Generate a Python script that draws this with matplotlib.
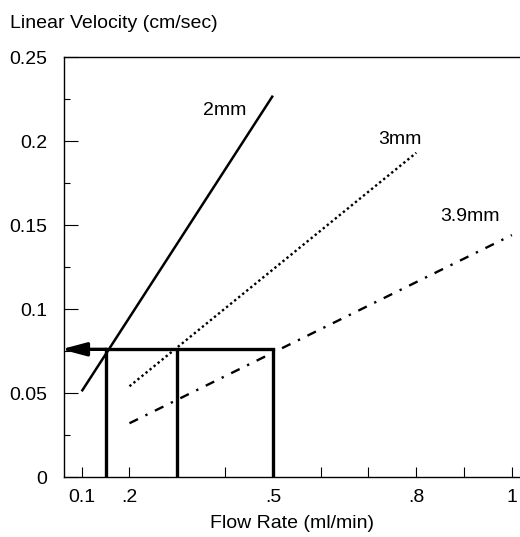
import matplotlib.pyplot as plt
from matplotlib.ticker import MultipleLocator

plt.rcParams["font.family"] = ["Liberation Sans", "DejaVu Sans"]

# data
flow_2mm = [0.1, 0.5]
vel_2mm = [0.051, 0.227]
flow_3mm = [0.2, 0.8]
vel_3mm = [0.054, 0.193]
flow_39mm = [0.2, 1.0]
vel_39mm = [0.032, 0.144]

target_velocity = 0.076
read_flows = [0.15, 0.3, 0.5]

x_ticks = [0.1, 0.2, 0.3, 0.4, 0.5, 0.6, 0.7, 0.8, 0.9, 1.0]
x_tick_labels = ["0.1", ".2", "", "", ".5", "", "", ".8", "", "1"]
y_ticks = [0, 0.05, 0.1, 0.15, 0.2, 0.25]
y_tick_labels = ["0", "0.05", "0.1", "0.15", "0.2", "0.25"]


def main():
    fig = plt.figure(figsize=(5.2, 5.37), dpi=100)
    ax = fig.add_axes([64 / 520, 1 - 477 / 537, 1 - 64 / 520, (477 - 57) / 537])

    ax.plot(flow_2mm, vel_2mm, color="black", lw=1.8, solid_capstyle="butt")
    ax.plot(flow_3mm, vel_3mm, color="black", lw=1.7, linestyle=(0, (1, 1.2)))
    ax.plot(flow_39mm, vel_39mm, color="black", lw=1.7,
            linestyle=(0, (4, 3.5, 1, 3.5)))

    ax.text(0.40, 0.218, "2mm", fontsize=14, ha="center", va="center")
    ax.text(0.766, 0.201, "3mm", fontsize=14, ha="center", va="center")
    ax.text(0.912, 0.155, "3.9mm", fontsize=14, ha="center", va="center")

    # reading lines
    for f in read_flows:
        ax.plot([f, f], [0, target_velocity], color="black", lw=2.4,
                solid_capstyle="butt")
    ax.plot([read_flows[0], read_flows[-1]], [target_velocity] * 2,
            color="black", lw=2.4, solid_capstyle="projecting")
    ax.annotate("", xy=(0.057, target_velocity),
                xytext=(read_flows[0] + 0.002, target_velocity),
                arrowprops=dict(arrowstyle="-|>,head_length=1.5,head_width=0.4",
                                color="black", lw=2.4, shrinkA=0, shrinkB=0),
                annotation_clip=False)

    ax.set_xlim(0.063, 1.017)
    ax.set_ylim(0, 0.25)

    ax.set_xticks(x_ticks)
    ax.set_xticklabels(x_tick_labels)
    ax.set_yticks(y_ticks)
    ax.set_yticklabels(y_tick_labels)
    ax.yaxis.set_minor_locator(MultipleLocator(0.025))

    ax.tick_params(axis="x", direction="in", length=7, width=0.8,
                   labelsize=14, pad=9)
    ax.tick_params(axis="y", which="major", direction="in", length=10,
                   width=0.8, labelsize=14, pad=12)
    ax.tick_params(axis="y", which="minor", direction="in", length=4,
                   width=0.8)

    ax.spines["right"].set_visible(False)
    for s in ["left", "bottom", "top"]:
        ax.spines[s].set_linewidth(1.0)

    ax.set_xlabel("Flow Rate (ml/min)", fontsize=14, labelpad=6)
    fig.text(10 / 520, 1 - 23 / 537, "Linear Velocity (cm/sec)",
             fontsize=14, ha="left", va="center")

    fig.savefig("out.png", dpi=100)


if __name__ == "__main__":
    main()
